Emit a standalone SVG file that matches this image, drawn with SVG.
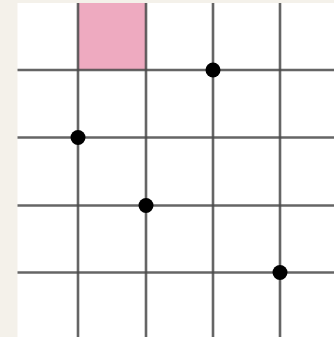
<svg xmlns="http://www.w3.org/2000/svg" width="334" height="337" viewBox="0 0 334 337">
<style>
.ln{stroke:#4a4a4a;stroke-width:2.6;stroke-opacity:0.85}
.dot{fill:#000}
</style>
<rect x="0" y="0" width="334" height="337" fill="#f4f1ea"/>
<rect x="17.5" y="3" width="316.5" height="334" fill="#ffffff"/>
<g id="cell">
<rect x="78" y="3" width="68" height="67" fill="#eeaac0"/>
</g>
<g id="grid">
<line class="ln" x1="78" y1="3" x2="78" y2="337"/>
<line class="ln" x1="146" y1="3" x2="146" y2="337"/>
<line class="ln" x1="213" y1="3" x2="213" y2="337"/>
<line class="ln" x1="280" y1="3" x2="280" y2="337"/>
<line class="ln" x1="17.5" y1="70" x2="334" y2="70"/>
<line class="ln" x1="17.5" y1="137.5" x2="334" y2="137.5"/>
<line class="ln" x1="17.5" y1="205.5" x2="334" y2="205.5"/>
<line class="ln" x1="17.5" y1="272.5" x2="334" y2="272.5"/>
</g>
<g id="dot1"><circle class="dot" cx="213" cy="70" r="7.5"/></g>
<g id="dot2"><circle class="dot" cx="78" cy="137.5" r="7.5"/></g>
<g id="dot3"><circle class="dot" cx="146" cy="205.5" r="7.5"/></g>
<g id="dot4"><circle class="dot" cx="280" cy="272.5" r="7.5"/></g>
</svg>
